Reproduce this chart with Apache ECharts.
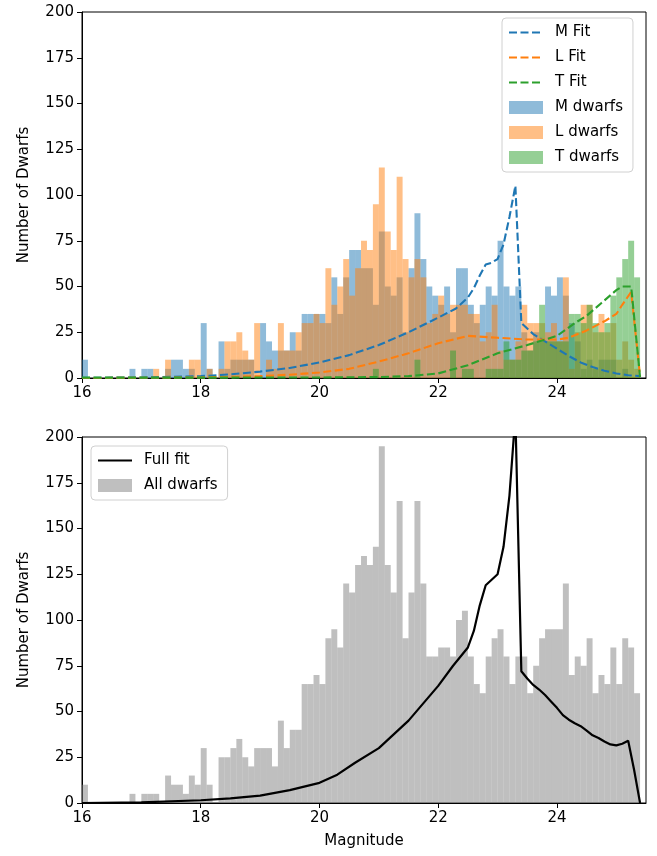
<!DOCTYPE html>
<html>
<head>
<meta charset="utf-8">
<script src="https://cdn.jsdelivr.net/npm/echarts@6/dist/echarts.min.js"></script>
<style>
  html, body { margin: 0; padding: 0; background: #fff; }
  #chart { width: 657px; height: 856px; }
</style>
</head>
<body>
<div id="chart"></div>
<script>
// ---- Data ----
const binStart = 16.0;
const binWidth = 0.1;
const xTicks = [16, 18, 20, 22, 24];

const mDwarfs = [10,0,0,0,0,0,0,0,5,0,
  5,5,0,0,5,10,10,5,5,0,
  30,5,0,20,5,10,10,10,10,0,
  30,20,15,15,15,25,15,35,35,35,
  35,30,55,35,55,70,70,60,60,40,
  80,50,45,55,25,60,90,65,50,45,
  40,50,25,60,60,40,30,40,50,45,
  75,50,45,50,25,15,25,20,50,45,
  55,45,30,20,5,10,5,10,10,10,
  0,5,0,0];
const lDwarfs = [0,0,0,0,0,0,0,0,0,0,
  0,0,5,0,10,0,0,0,10,10,
  0,5,0,5,20,20,25,15,10,30,
  0,10,5,30,15,15,25,30,30,35,
  30,60,40,50,65,45,60,75,70,95,
  115,80,70,110,65,55,65,55,30,35,
  45,35,40,40,40,35,35,20,25,40,
  15,10,10,20,40,30,30,30,25,30,
  20,55,5,25,40,40,25,35,25,30,
  10,20,10,5];
const tDwarfs = [0,0,0,0,0,0,0,0,0,0,
  0,0,0,0,0,0,0,0,0,0,
  0,0,0,0,0,0,0,0,0,0,
  0,0,0,0,0,0,0,0,0,0,
  0,0,0,0,0,0,0,0,0,5,
  0,0,0,0,0,0,10,0,0,0,
  0,0,15,0,5,5,0,0,5,5,
  5,20,10,10,15,15,20,40,20,20,
  20,20,35,35,30,40,30,25,30,45,
  55,65,75,55];
const allDwarfs = [10,0,0,0,0,0,0,0,5,0,
  5,5,5,0,15,10,10,5,15,10,
  30,10,0,25,25,30,35,25,20,30,
  30,30,20,45,30,40,40,65,65,70,
  65,90,95,85,120,115,130,135,130,140,
  195,130,115,165,90,115,165,120,80,80,
  85,85,80,100,105,80,65,60,80,90,
  95,80,65,80,80,60,75,90,95,95,
  95,120,70,80,75,90,60,70,65,85,
  65,90,85,60];

const mFitX = [16.0,16.5,17.0,17.5,18.0,18.5,19.0,19.5,20.0,20.5,21.0,21.5,22.0,22.3,22.5,22.6,22.7,22.8,22.9,23.0,23.1,23.2,23.3,23.4,23.5,23.6,23.8,24.0,24.2,24.4,24.6,24.8,25.0,25.2,25.4];
const mFitY = [0.1,0.2,0.3,0.6,1.0,2.0,3.5,5.5,8.5,12.5,18,25,33,38,44,49,56,62,63,65,73,88,105,30,27,24,20,16,12,8.5,6,4,2.5,1.5,1];
const lFitX = [16.0,17.0,18.0,18.5,19.0,19.5,20.0,20.5,21.0,21.5,22.0,22.5,23.0,23.5,24.0,24.2,24.5,24.8,25.0,25.1,25.25,25.4];
const lFitY = [0,0.1,0.3,0.6,1,1.8,3,5,9,13.5,19,23,22,21,21,22,26,31,35,40,47,1];
const tFitX = [16.0,18.0,20.0,21.0,21.5,22.0,22.5,23.0,23.5,24.0,24.3,24.5,24.75,25.0,25.1,25.25,25.4];
const tFitY = [0.2,0.2,0.3,0.5,1,2.5,7,13.5,18,23,30,34,41,48,50,50,0.5];
const fullFitX = [16.0,17.0,18.0,18.5,19.0,19.5,20.0,20.3,20.6,21.0,21.5,22.0,22.25,22.5,22.6,22.7,22.8,22.9,23.0,23.1,23.2,23.3,23.4,23.5,23.6,23.7,23.8,23.9,24.0,24.1,24.2,24.3,24.4,24.5,24.6,24.7,24.8,24.9,25.0,25.1,25.2,25.3,25.4];
const fullFitY = [0,0.3,1.5,2.5,4,7,11,15.5,22,30,45,64,75,85,94,108,119,122,125,140,168,212,72,68,64.5,62,59,55.5,52,48,45.5,43.6,42,39.6,37,35.5,33.6,32,31.5,32.4,34,18,0];

// ---- Build ----
function histData(vals) {
  return vals.map((v, i) => [binStart + i * binWidth, binStart + (i + 1) * binWidth, v]);
}
function pairs(xs, ys) { return xs.map((x, i) => [x, ys[i]]); }

const FONT = 'DejaVu Sans';
const FS = 15;
const C_M = '#1f77b4', C_L = '#ff7f0e', C_T = '#2ca02c';
const A = (hex, a) => {
  const r = parseInt(hex.slice(1,3),16), g = parseInt(hex.slice(3,5),16), b = parseInt(hex.slice(5,7),16);
  return `rgba(${r},${g},${b},${a})`;
};

function histSeries(name, vals, color, idx) {
  return {
    name: name,
    type: 'custom',
    xAxisIndex: idx, yAxisIndex: idx,
    itemStyle: { color: color },
    encode: { x: [0, 1], y: 2 },
    data: histData(vals),
    renderItem: function (params, api) {
      const p0 = api.coord([api.value(0), 0]);
      const p1 = api.coord([api.value(1), api.value(2)]);
      return {
        type: 'rect',
        shape: { x: p0[0], y: p1[1], width: p1[0] - p0[0], height: p0[1] - p1[1] },
        style: { fill: color }
      };
    },
    z: 2
  };
}
function fitSeries(name, xs, ys, color, idx, dashed) {
  return {
    name: name,
    type: 'line',
    xAxisIndex: idx, yAxisIndex: idx,
    data: pairs(xs, ys),
    showSymbol: false,
    symbol: 'none',
    smooth: false,
    clip: true,
    itemStyle: { color: color },
    lineStyle: { color: color, width: dashed ? 2.1 : 2.2, type: dashed ? [8, 3.5] : 'solid' },
    z: 5
  };
}

function xAxisCfg(idx, withName) {
  return {
    type: 'value', gridIndex: idx, min: 16, max: 25.5, interval: 2,
    name: withName ? 'Magnitude' : '',
    nameLocation: 'middle', nameGap: 31,
    nameTextStyle: { fontFamily: FONT, fontSize: FS, color: '#000' },
    axisLine: { show: true, onZero: false, lineStyle: { color: '#000', width: 1 } },
    axisTick: { show: true, length: 5, lineStyle: { color: '#000', width: 1 }, customValues: xTicks },
    axisLabel: { fontFamily: FONT, fontSize: FS, color: '#000', margin: 8, customValues: xTicks },
    splitLine: { show: false }
  };
}
function yAxisCfg(idx) {
  return {
    type: 'value', gridIndex: idx, min: 0, max: 200, interval: 25,
    name: 'Number of Dwarfs',
    nameLocation: 'middle', nameGap: 50,
    nameTextStyle: { fontFamily: FONT, fontSize: FS, color: '#000' },
    axisLine: { show: true, lineStyle: { color: '#000', width: 1 } },
    axisTick: { show: true, length: 5, lineStyle: { color: '#000', width: 1 } },
    axisLabel: { fontFamily: FONT, fontSize: FS, color: '#000', margin: 8 },
    splitLine: { show: false }
  };
}

const hideSym = { opacity: 0 };
const legendCommon = {
  orient: 'vertical',
  itemWidth: 34, itemHeight: 13, itemGap: 10,
  padding: [7, 10, 7, 6],
  borderColor: '#d0d0d0', borderWidth: 1, borderRadius: 4,
  backgroundColor: 'rgba(255,255,255,0.8)',
  textStyle: { fontFamily: FONT, fontSize: FS, color: '#000', padding: [0, 0, 0, 7] },
  selectedMode: false
};

const option = {
  animation: false,
  backgroundColor: '#fff',
  grid: [
    { left: 82, top: 12, width: 564, height: 366, show: true, borderColor: '#000', borderWidth: 1, backgroundColor: 'transparent' },
    { left: 82, top: 437, width: 564, height: 366, show: true, borderColor: '#000', borderWidth: 1, backgroundColor: 'transparent' }
  ],
  xAxis: [xAxisCfg(0, false), xAxisCfg(1, true)],
  yAxis: [yAxisCfg(0), yAxisCfg(1)],
  legend: [
    Object.assign({}, legendCommon, {
      left: 502, top: 18,
      data: [
        { name: 'M Fit', itemStyle: hideSym }, { name: 'L Fit', itemStyle: hideSym }, { name: 'T Fit', itemStyle: hideSym },
        { name: 'M dwarfs', icon: 'rect' }, { name: 'L dwarfs', icon: 'rect' }, { name: 'T dwarfs', icon: 'rect' }
      ]
    }),
    Object.assign({}, legendCommon, {
      left: 91, top: 446,
      data: [ { name: 'Full fit', itemStyle: hideSym }, { name: 'All dwarfs', icon: 'rect' } ]
    })
  ],
  series: [
    histSeries('M dwarfs', mDwarfs, A(C_M, 0.5), 0),
    histSeries('L dwarfs', lDwarfs, A(C_L, 0.5), 0),
    histSeries('T dwarfs', tDwarfs, A(C_T, 0.5), 0),
    fitSeries('M Fit', mFitX, mFitY, C_M, 0, true),
    fitSeries('L Fit', lFitX, lFitY, C_L, 0, true),
    fitSeries('T Fit', tFitX, tFitY, C_T, 0, true),
    histSeries('All dwarfs', allDwarfs, 'rgba(128,128,128,0.5)', 1),
    fitSeries('Full fit', fullFitX, fullFitY, '#000', 1, false)
  ]
};

const chart = echarts.init(document.getElementById('chart'), null, { renderer: 'canvas' });
chart.setOption(option);
</script>
</body>
</html>
